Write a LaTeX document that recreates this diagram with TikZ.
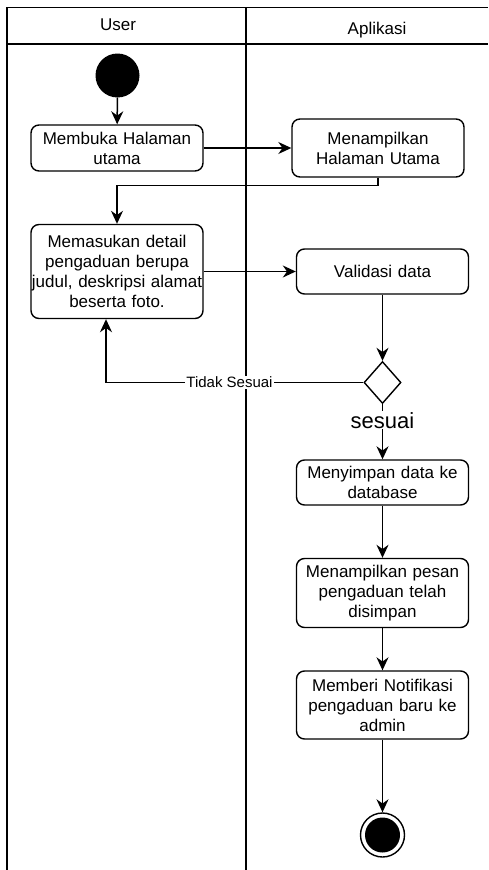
\documentclass[tikz,border=0pt]{standalone}
\usepackage{fontspec}
\setmainfont{Liberation Sans}
\usepackage{tikz}
\usetikzlibrary{arrows.meta,shapes.geometric}

\tikzset{
    lane/.style={line width=1.5pt},
    act/.style={draw,rounded corners=8pt,line width=1.4pt,align=center,
        text width=170pt,inner xsep=1pt,inner ysep=0pt,
        font=\fontsize{17}{20}\selectfont},
    arr/.style={-{Stealth[length=13pt,width=12pt]},line width=1.5pt},
}

\begin{document}
\begin{tikzpicture}[x=1pt,y=-1pt]
    \useasboundingbox (0,0) rectangle (488,870);
    % swimlanes
    \draw[lane] (7,870) -- (7,7.5) -- (488,7.5);
    \draw[lane] (7,44) -- (488,44);
    \draw[lane] (246,7.5) -- (246,870);
    \node[anchor=base,font=\fontsize{17}{20}\selectfont] (user) at (118,30.5) {User};
    \node[anchor=base,font=\fontsize{17}{20}\selectfont] (aplikasi) at (377,34) {Aplikasi};
    % activities
    \node[circle,fill=black,minimum size=44pt,inner sep=0pt] (start) at (117.5,75.5) {};
    \node[act,minimum height=46pt] (buka) at (117,148) {Membuka Halaman\\utama};
    \node[act,minimum height=58pt] (tampil) at (378,148) {Menampilkan\\Halaman Utama};
    \node[act,minimum height=94pt,text width=180pt,inner xsep=-4pt] (input) at (117,271.5) {Memasukan detail\\pengaduan berupa\\judul, deskripsi alamat\\beserta foto.};
    \node[act,minimum height=45pt] (validasi) at (382.5,271.5) {Validasi data};
    \node[diamond,draw,line width=1.4pt,minimum width=37pt,minimum height=42pt,inner sep=0pt] (cek) at (382.5,382.5) {};
    \node[act,minimum height=45pt] (simpan) at (382.5,482.5) {Menyimpan data ke\\database};
    \node[act,minimum height=69pt] (pesan) at (382.5,593) {Menampilkan pesan\\pengaduan telah\\disimpan};
    \node[act,minimum height=68pt] (notif) at (382.5,705) {Memberi Notifikasi\\pengaduan baru ke\\admin};
    \node[circle,draw,line width=1.4pt,minimum size=44pt,inner sep=0pt] (akhir) at (382.5,835) {};
    \node[circle,fill=black,minimum size=35pt,inner sep=0pt] (akhirdot) at (akhir) {};
    % flows
    \draw[arr] (start) -- (buka);
    \draw[arr] (buka) -- (tampil);
    \draw[arr] (tampil.south) -- ++(0,8) -| (input.north);
    \draw[arr] (input) -- (validasi);
    \draw[arr] (validasi) -- (cek);
    \draw[arr] (cek.west) -| node[pos=0.26,fill=white,inner sep=1pt,font=\fontsize{15}{18}\selectfont] {Tidak Sesuai} ([xshift=-11pt]input.south);
    \draw[arr] (cek) -- node[pos=0.29,fill=white,inner sep=1pt,font=\fontsize{22}{26}\selectfont] {sesuai} (simpan);
    \draw[arr] (simpan) -- (pesan);
    \draw[arr] (pesan) -- (notif);
    \draw[arr] (notif) -- (akhir);
\end{tikzpicture}
\end{document}
